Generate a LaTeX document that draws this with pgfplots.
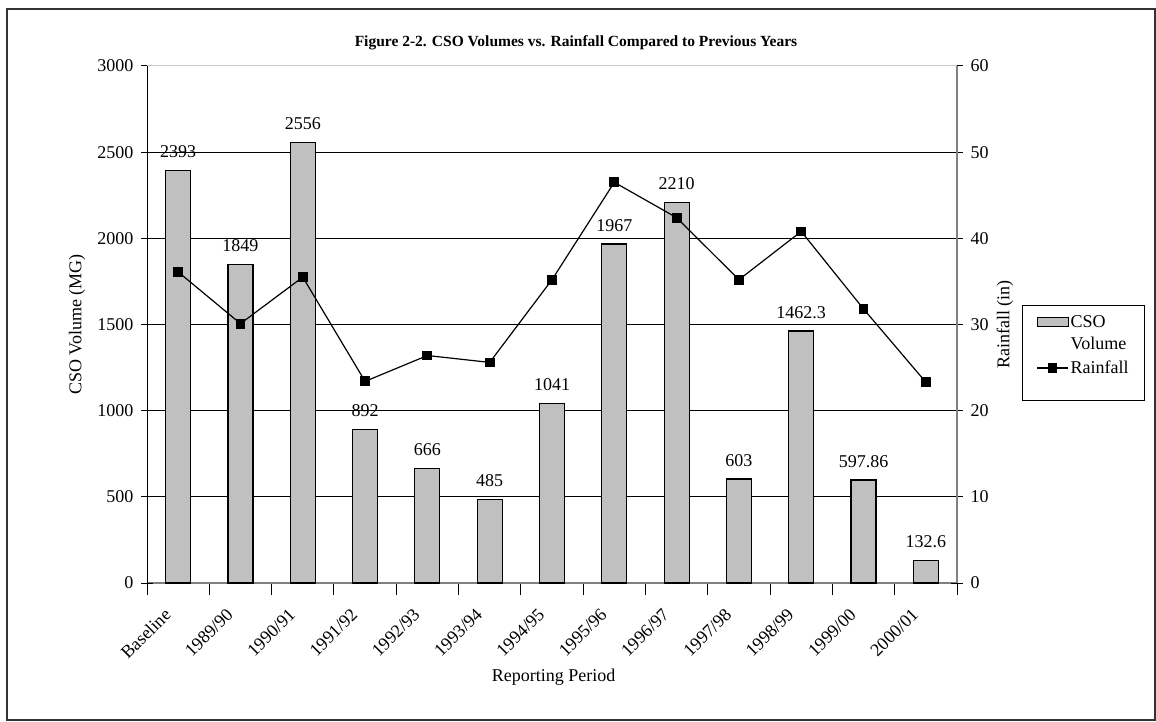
\documentclass[border=0pt]{standalone}
\usepackage{fontspec}
\setmainfont{Liberation Serif}
\usepackage{pgfplots}
\pgfplotsset{compat=1.18}
\definecolor{barfill}{RGB}{192,192,192}
\definecolor{axgray}{RGB}{128,128,128}
\definecolor{topgray}{RGB}{200,200,200}
\newcommand{\chartfont}{\fontsize{18}{22}\selectfont}

\pgfplotsset{
  every axis/.append style={
    width=810pt, height=517pt, scale only axis,
    at={(147pt,138pt)}, anchor=south west,
    xmin=-0.5, xmax=12.5,
    tick align=center,
    major tick length=12pt, minor tick length=12pt,
    tick style={black, line width=1pt},
    tick label style={font=\chartfont},
    label style={font=\chartfont},
    /pgf/number format/assume math mode=true,
    /pgf/number format/1000 sep={},
  },
}

\begin{document}
\begin{tikzpicture}
\useasboundingbox (0,0) rectangle (1156pt,721pt);
\draw[line width=2pt, black!80] (7pt,1pt) rectangle (1155pt,712pt);
\node[font=\bfseries\fontsize{15.5}{18}\selectfont] at (576pt,678pt)
  {Figure 2-2. CSO Volumes vs. Rainfall Compared to Previous Years};

% CSO volume bars, left axis
\begin{axis}[
  ymin=0, ymax=3000,
  axis x line*=bottom, axis y line*=left,
  x axis line style={axgray, line width=1.5pt},
  y axis line style={black, line width=1pt},
  xtick={0,...,12},
  xticklabels={Baseline,1989/90,1990/91,1991/92,1992/93,1993/94,1994/95,
    1995/96,1996/97,1997/98,1998/99,1999/00,2000/01},
  major x tick style={draw=none},
  minor xtick={-0.5,0.5,...,12.5},
  xticklabel style={xshift=-15pt, yshift=-12pt, rotate=45, anchor=north east, inner sep=0pt},
  ytick={500,1000,...,2500},
  extra y ticks={0,3000},
  extra y tick style={grid=none},
  yticklabel style={xshift=-4pt},
  ymajorgrids,
  major grid style={black, line width=0.9pt},
  xlabel={Reporting Period},
  xlabel style={at={(axis description cs:0.502,-0.182)}, anchor=center},
  ylabel={CSO Volume (MG)},
  ylabel style={at={(axis description cs:-0.0864,0.5)}, anchor=center},
  ybar, bar width=25pt,
  nodes near coords,
  point meta=explicit symbolic,
  every node near coord/.append style={font=\chartfont, anchor=south, inner sep=0pt, yshift=12pt},
]
\addplot[fill=barfill, draw=black, line width=1.2pt] coordinates {
  (0,2393) [2393]
  (1,1849) [1849]
  (2,2556) [2556]
  (3,892) [892]
  (4,666) [666]
  (5,485) [485]
  (6,1041) [1041]
  (7,1967) [1967]
  (8,2210) [2210]
  (9,603) [603]
  (10,1462.3) [1462.3]
  (11,597.86) [597.86]
  (12,132.6) [132.6]
};
\end{axis}

% Rainfall line, right axis
\begin{axis}[
  ymin=0, ymax=60,
  axis x line*=top, axis y line*=right,
  xtick=\empty,
  x axis line style={topgray, line width=1pt},
  y axis line style={axgray, line width=1.5pt},
  ytick={0,10,...,60},
  yticklabel style={xshift=4pt},
  ylabel={Rainfall (in)},
  ylabel style={at={(axis description cs:1.0593,0.5)}, anchor=center},
  legend cell align=left,
  legend style={at={(1.0802,0.352)}, anchor=south west, draw=black, line width=1pt,
    font=\chartfont, inner xsep=14pt, inner ysep=8pt, row sep=6pt,
    nodes={align=left, inner sep=2pt}},
]
\addlegendimage{legend image code/.code={
  \draw[fill=barfill, draw=black, line width=1pt] (0pt,6.5pt) rectangle (31pt,15.5pt);}}
\addlegendentry{CSO\\Volume}
\addplot[black, line width=1.2pt, mark=square*, mark size=4.3pt,
  legend image code/.code={
    \draw[mark repeat=2, mark phase=2] plot coordinates {(0pt,0pt) (15.5pt,0pt) (31pt,0pt)};}]
  coordinates {
  (0,36.1) (1,30.1) (2,35.5) (3,23.4) (4,26.4) (5,25.6) (6,35.2)
  (7,46.5) (8,42.4) (9,35.2) (10,40.8) (11,31.8) (12,23.3)
};
\addlegendentry{Rainfall}
\addlegendimage{empty legend}
\addlegendentry{\rule{0pt}{4pt}}
\end{axis}
\end{tikzpicture}
\end{document}
